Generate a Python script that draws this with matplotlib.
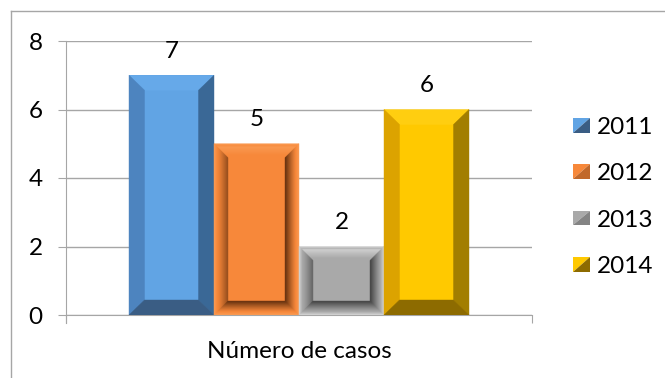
import matplotlib
matplotlib.use("Agg")
import matplotlib.pyplot as plt
from matplotlib.patches import Polygon, Rectangle
from matplotlib.lines import Line2D
from matplotlib.legend_handler import HandlerBase
import numpy as np

plt.rcParams['font.family'] = ['Lato', 'DejaVu Sans']

years = ["2011", "2012", "2013", "2014"]
values = [7, 5, 2, 6]
category = "Número de casos"
yticks = [0, 2, 4, 6, 8]

colors = {
    "2011": dict(main="#61A4E4", top="#66A9E9", left="#4D84BF", right="#3A6896", bottom="#3A5D84", style="angle"),
    "2012": dict(main="#F7883A", light="#FA9A52", dark="#5E2C0C", style="pillow"),
    "2013": dict(main="#A9A9A9", light="#D2D2D2", dark="#3E3E3E", style="pillow"),
    "2014": dict(main="#FFC900", top="#FFCE10", left="#DCA300", right="#A27E00", bottom="#8D6B00", style="angle"),
}

FS = 17.5
W, H = 665, 378
fig = plt.figure(figsize=(W / 100, H / 100), dpi=100)
L, R, T, B = 66, 532, 41, 315
ax = fig.add_axes([L / W, 1 - B / H, (R - L) / W, (B - T) / H])
ax.set_xlim(-0.5, 0.5)
ax.set_ylim(0, 8)

gridc = "#A6A6A6"
bw = 85 / (R - L)
px_x = 1.0 / (R - L)
px_y = 8.0 / (B - T)

def hexrgb(c):
    c = c.lstrip('#')
    return np.array([int(c[i:i + 2], 16) / 255 for i in (0, 2, 4)])

def mix(a, b, t):
    return tuple(hexrgb(a) * (1 - t) + hexrgb(b) * t)

def draw_angle(rect, c):
    x0, y0 = rect.get_x(), rect.get_y()
    x1, y1 = x0 + rect.get_width(), y0 + rect.get_height()
    dx, dy = 15.5 * px_x, 15 * px_y
    polys = [
        ([(x0, y1), (x1, y1), (x1 - dx, y1 - dy), (x0 + dx, y1 - dy)], c["top"]),
        ([(x0, y0), (x0, y1), (x0 + dx, y1 - dy), (x0 + dx, y0 + dy)], c["left"]),
        ([(x1, y0), (x1, y1), (x1 - dx, y1 - dy), (x1 - dx, y0 + dy)], c["right"]),
        ([(x0, y0), (x1, y0), (x1 - dx, y0 + dy), (x0 + dx, y0 + dy)], c["bottom"]),
    ]
    for pts, col in polys:
        ax.add_patch(Polygon(pts, closed=True, facecolor=col, edgecolor=col, lw=0.3, zorder=3))

def draw_pillow(rect, c):
    x0, y0 = rect.get_x(), rect.get_y()
    x1, y1 = x0 + rect.get_width(), y0 + rect.get_height()
    n = 14
    for i in range(n):
        d0, d1 = i, i + 1
        if i < 3:
            ct = cl = cr = cb = mix(c["light"], c["main"], i / 3)
        else:
            u = (i - 3) / (n - 4)
            ct = mix(c["light"], c["main"], min(1, u * 1.2))
            cl = mix(c["main"], c["dark"], 0.6 * u ** 1.2)
            cr = mix(c["main"], c["dark"], 0.9 * u ** 1.1)
            cb = mix(c["main"], c["dark"], 0.9 * u ** 1.1)
        ax0, ax1 = x0 + d0 * px_x, x1 - d0 * px_x
        ay0, ay1 = y0 + d0 * px_y, y1 - d0 * px_y
        bx0, bx1 = x0 + d1 * px_x, x1 - d1 * px_x
        by0, by1 = y0 + d1 * px_y, y1 - d1 * px_y
        polys = [
            ([(ax0, ay1), (ax1, ay1), (bx1, by1), (bx0, by1)], ct),
            ([(ax0, ay0), (ax0, ay1), (bx0, by1), (bx0, by0)], cl),
            ([(ax1, ay0), (ax1, ay1), (bx1, by1), (bx1, by0)], cr),
            ([(ax0, ay0), (ax1, ay0), (bx1, by0), (bx0, by0)], cb),
        ]
        for pts, col in polys:
            ax.add_patch(Polygon(pts, closed=True, facecolor=col, edgecolor=col, lw=0.3, zorder=3))

for i, (yr, v) in enumerate(zip(years, values)):
    c = colors[yr]
    xpos = (i - 1.5) * bw
    bars = ax.bar([xpos], [v], width=bw, color=c["main"], zorder=2, label=yr)
    rect = bars.patches[0]
    if c["style"] == "angle":
        draw_angle(rect, c)
    else:
        draw_pillow(rect, c)
    ax.annotate(str(v), (xpos, v), xytext=(0, 24), textcoords="offset pixels",
                ha="center", va="center", fontsize=FS, color="black")

for s in ["top", "right"]:
    ax.spines[s].set_visible(False)
ax.spines["left"].set_color(gridc)
ax.spines["bottom"].set_color(gridc)
ax.spines["left"].set_bounds(-8 * px_y, 8)
ax.set_yticks(yticks)
ax.set_yticklabels([str(t) for t in yticks])
ax.yaxis.grid(True, color=gridc, lw=1)
ax.set_axisbelow(True)
ax.tick_params(axis="y", length=8 * 0.72, color=gridc, labelsize=FS, pad=11)
ax.set_xticks([-0.5, 0.5])
ax.set_xticklabels(["", ""])
ax.tick_params(axis="x", length=8 * 0.72, color=gridc)
ax.text(0.5, -36 / (B - T), category, transform=ax.transAxes, ha="center", va="center", fontsize=FS)

fig.add_artist(Line2D([11 / W, 1.0], [1 - 11 / H, 1 - 11 / H], color="#A6A6A6", lw=1))
fig.add_artist(Line2D([11 / W, 11 / W], [1 - 11 / H, 0], color="#A6A6A6", lw=1))

class PyramidHandler(HandlerBase):
    def __init__(self, c):
        super().__init__()
        self.c = c
    def create_artists(self, legend, orig_handle, xdescent, ydescent, width, height, fontsize, trans):
        c = self.c
        x0, y0 = -xdescent, -ydescent
        x1, y1 = x0 + width, y0 + height
        if c["style"] == "angle":
            light, dark = c["main"], c["bottom"]
        else:
            light, dark = c["main"], mix(c["main"], c["dark"], 0.35)
        p1 = Polygon([(x0, y0), (x0, y1), (x1, y1)], closed=True, facecolor=light, edgecolor="none", transform=trans)
        p2 = Polygon([(x0, y0), (x1, y0), (x1, y1)], closed=True, facecolor=dark, edgecolor="none", transform=trans)
        return [p1, p2]

handles = [Rectangle((0, 0), 1, 1) for _ in years]
hmap = {h: PyramidHandler(colors[yr]) for h, yr in zip(handles, years)}
leg = fig.legend(handles, years, handler_map=hmap, loc="center left",
                 bbox_to_anchor=(573 / W, 1 - 197 / H), frameon=False,
                 fontsize=FS, handlelength=0.7, handleheight=0.55,
                 handletextpad=0.3, labelspacing=1.04, borderaxespad=0, borderpad=0)

fig.savefig("out.png", dpi=100)
